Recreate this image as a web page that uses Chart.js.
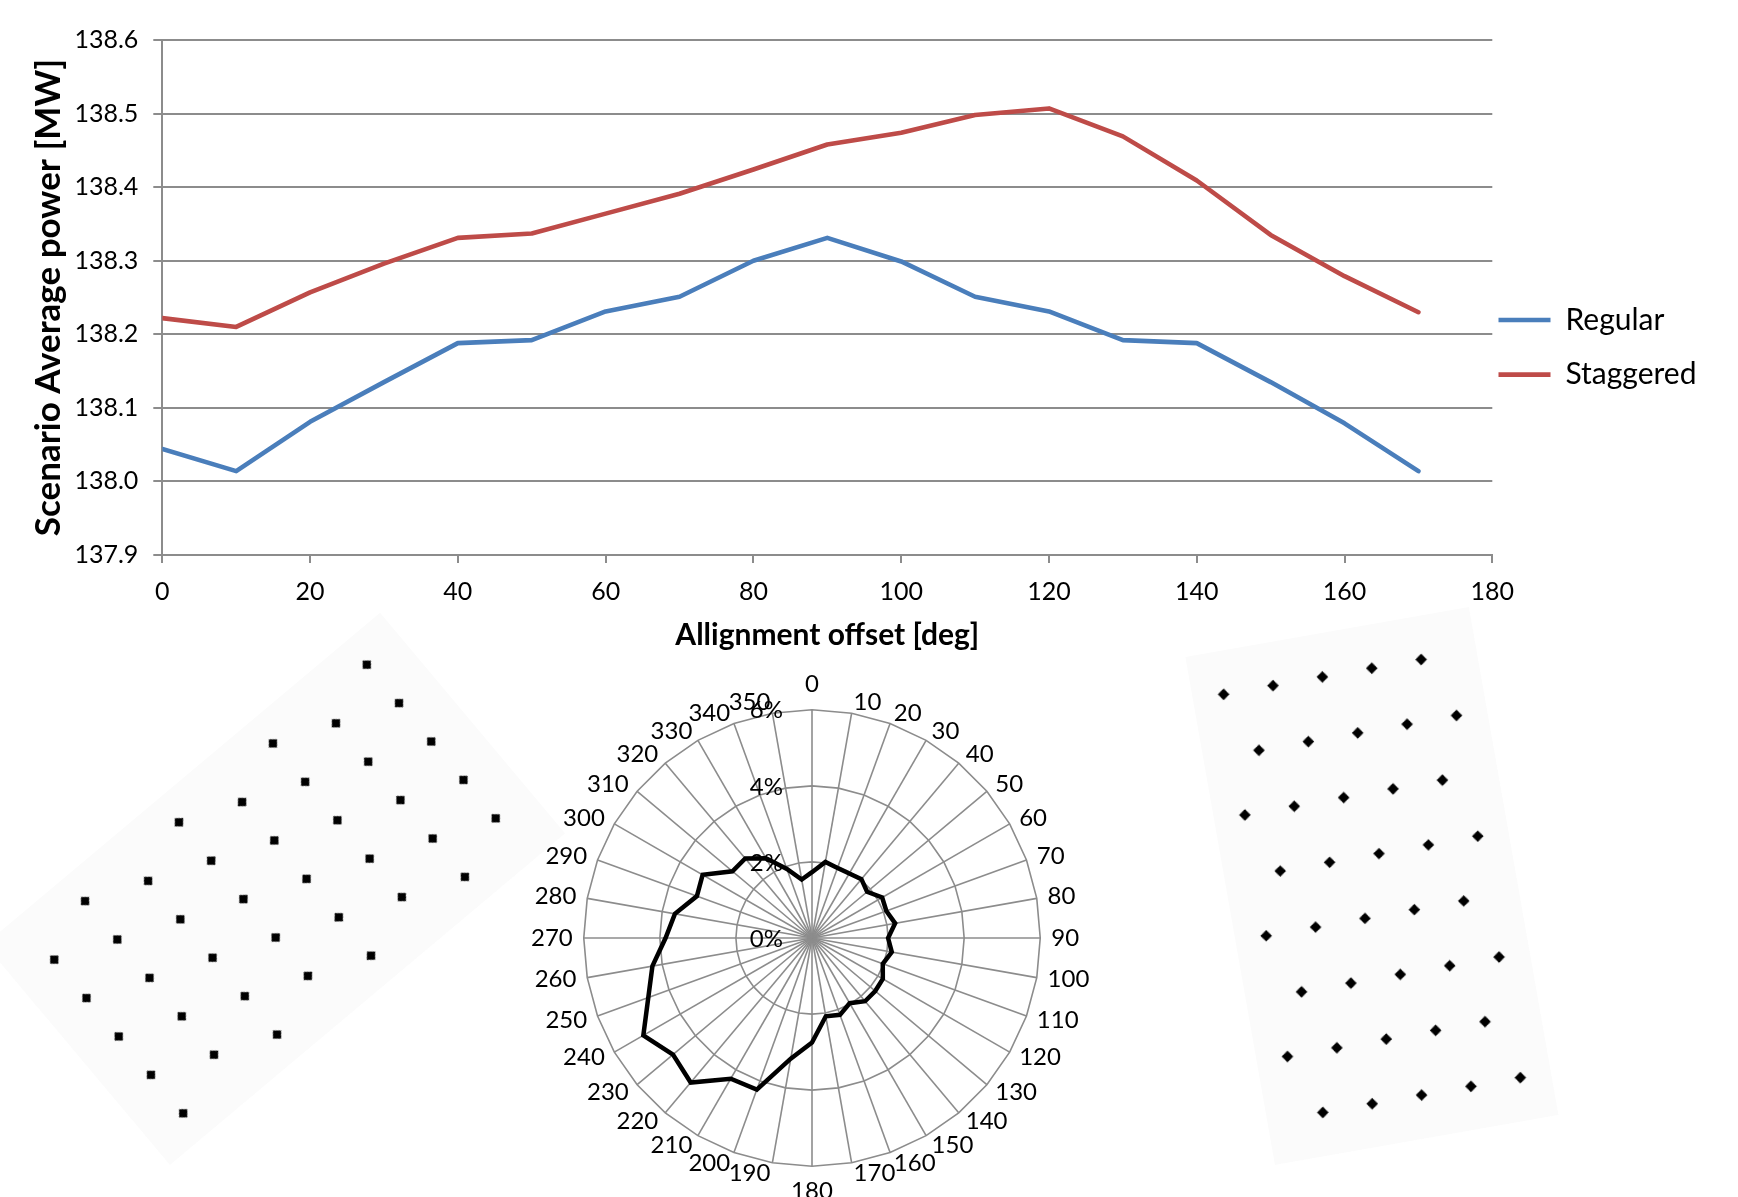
<!DOCTYPE html>
<html><head><meta charset="utf-8">
<script src="https://cdn.jsdelivr.net/npm/chart.js@4.4.1/dist/chart.umd.min.js"></script>
<style>
html,body{margin:0;padding:0;background:#fff;}
body{width:1738px;height:1197px;position:relative;overflow:hidden;}
canvas{position:absolute;}
#layoutA,#layoutB{background:#fbfbfb;}
</style></head><body>
<canvas id="line" width="1738" height="673" style="left:0;top:0"></canvas>
<canvas id="radar"></canvas>
<canvas id="layoutA" width="288" height="516"></canvas>
<canvas id="layoutB" width="288" height="516"></canvas>
<script>
// ---- line chart data ----
const offsets = [0,10,20,30,40,50,60,70,80,90,100,110,120,130,140,150,160,170];
const regular = [138.044,138.014,138.081,138.135,138.188,138.192,138.231,138.251,138.300,138.331,138.299,138.251,138.231,138.192,138.188,138.135,138.079,138.014];
const staggered = [138.222,138.210,138.257,138.296,138.331,138.337,138.364,138.391,138.424,138.458,138.474,138.498,138.507,138.469,138.409,138.335,138.279,138.230];
const seriesNames = ['Regular','Staggered'];
const xTitle = 'Allignment offset [deg]';
const yTitle = 'Scenario Average power [MW]';

// ---- wind rose data (percent per direction sector) ----
const directions = ['0','10','20','30','40','50','60','70','80','90','100','110','120','130','140','150','160','170','180','190','200','210','220','230','240','250','260','270','280','290','300','310','320','330','340','350'];
const frequency = [1.73,2.03,1.96,1.96,2.02,1.89,2.13,2.08,2.22,2.00,2.13,1.98,2.15,2.17,2.17,1.98,2.15,2.09,2.75,3.22,4.24,4.27,4.96,4.77,5.12,4.58,4.26,3.85,3.66,3.22,3.32,2.73,2.73,2.42,1.93,1.56];

// ---- turbine layout (units of rotor diameter) ----
const turbineX = [0,5,10,15,20, 2.5,7.5,12.5,17.5,22.5, 0,5,10,15,20, 2.5,7.5,12.5,17.5,22.5, 0,5,10,15,20, 2.5,7.5,12.5,17.5,22.5, 0,5,10,15,20, 2.5,7.5,12.5,17.5,22.5];
const turbineY = [0,0,0,0,0, 6,6,6,6,6, 12,12,12,12,12, 18,18,18,18,18, 24,24,24,24,24, 30,30,30,30,30, 36,36,36,36,36, 42,42,42,42,42];

Chart.defaults.font.family = 'Lato';
Chart.defaults.color = '#000';
const GRID = '#8c8c8c';

// ================= line chart =================
const LEG_PAD = 6.2;
const lineChart = new Chart(document.getElementById('line'), {
  type: 'line',
  data: { datasets: [
    { label: seriesNames[0], data: offsets.map((x,i)=>({x, y: regular[i]})), borderColor:'#4A7EBB', backgroundColor:'#4A7EBB',
      borderWidth: 4.6, pointRadius: 0, borderCapStyle:'round', borderJoinStyle:'round', tension:0, fill:false },
    { label: seriesNames[1], data: offsets.map((x,i)=>({x, y: staggered[i]})), borderColor:'#BE4B48', backgroundColor:'#BE4B48',
      borderWidth: 4.6, pointRadius: 0, borderCapStyle:'round', borderJoinStyle:'round', tension:0, fill:false }
  ]},
  options: {
    responsive:false, animation:false,
    layout:{ padding:{ top:40, left:0, bottom:0, right:0 } },
    plugins:{
      tooltip:{ enabled:false },
      legend:{ display:true, position:'right', align:'center',
        labels:{ usePointStyle:true, pointStyle:'line', pointStyleWidth:52, padding:LEG_PAD, color:'#000',
          font:{ size:30, lineHeight:(54.6 - LEG_PAD)/30 },
          generateLabels:(chart)=>Chart.defaults.plugins.legend.labels.generateLabels(chart).map(l=>Object.assign(l,{text:[l.text]})) } }
    },
    scales:{
      x:{ type:'linear', min:0, max:180,
        ticks:{ stepSize:20, padding:14, font:{ size:25 }, color:'#000' },
        grid:{ drawOnChartArea:false, drawTicks:true, tickLength:8, color:GRID, lineWidth:2 },
        border:{ display:true, color:GRID, width:2 },
        title:{ display:true, text:xTitle, font:{ size:30, weight:'bold' }, color:'#000', padding:{ top:0, bottom:20 } },
        afterFit:(s)=>{ s.height = 673 - 555; } },
      y:{ type:'linear', min:137.9, max:138.6,
        ticks:{ stepSize:0.1, padding:15, font:{ size:25 }, color:'#000', callback:(v)=>Number(v).toFixed(1) },
        grid:{ color:GRID, lineWidth:2, tickLength:9 },
        border:{ display:true, color:GRID, width:2 },
        title:{ display:true, text:yTitle, font:{ size:35, weight:'bold' }, color:'#000', padding:{ top:27.5, bottom:0 } },
        afterFit:(s)=>{ s.width = 162.3; } }
    }
  }
});
lineChart.options.layout.padding = { top:40, left:0, bottom:0, right: 1738 - 1492.3 - lineChart.legend.width };
lineChart.update('none');

// ================= radar (wind rose) =================
const radarTickLabels = {
  id:'radarTickLabels',
  afterLayout(chart){
    // centre each direction label vertically on its spoke (spreadsheet style)
    const s = chart.scales.r;
    (s._pointLabelItems || []).forEach((item, i) => {
      const a = Math.round(s.getIndexAngle(i) * 180 / Math.PI) % 360;
      const h = item.bottom - item.top;
      let dy = 0;
      if (a === 0 || a === 90 || a === 180 || a === 270) dy = 0;
      else if (a < 90 || a > 270) dy = h / 2;
      else dy = -h / 2;
      item.y += dy; item.top += dy; item.bottom += dy;
    });
  },
  beforeDatasetsDraw(chart){
    const s = chart.scales.r, ctx = chart.ctx;
    ctx.save();
    ctx.font = '24px Lato'; ctx.fillStyle = '#000'; ctx.textAlign = 'right'; ctx.textBaseline = 'middle';
    s.ticks.forEach(t => {
      const y = s.yCenter - s.getDistanceFromCenterForValue(t.value);
      ctx.fillText(t.label, s.xCenter - 29, y + 1);
    });
    ctx.restore();
  }
};
function radarConfig(){
  return {
    type:'radar',
    data:{ labels: directions, datasets:[{ label:'Wind', data: frequency, borderColor:'#000', borderWidth:4.5,
      pointRadius:0, fill:false, tension:0, borderJoinStyle:'miter' }] },
    options:{
      responsive:false, animation:false, layout:{ padding:0 },
      plugins:{ legend:{ display:false }, tooltip:{ enabled:false } },
      scales:{ r:{
        min:0, max:6, beginAtZero:true,
        ticks:{ display:false, stepSize:2, callback:(v)=>v + '%' },
        grid:{ color:GRID, lineWidth:1.6, circular:false },
        angleLines:{ color:GRID, lineWidth:1.6 },
        pointLabels:{ font:{ size:24 }, color:'#000', padding:11 }
      } }
    },
    plugins:[radarTickLabels]
  };
}
const rc = document.getElementById('radar');
let rsize = 620, radar = null;
for (let it = 0; it < 4; it++) {
  if (radar) radar.destroy();
  rc.width = rsize; rc.height = rsize;
  radar = new Chart(rc, radarConfig());
  const d = 228 - radar.scales.r.drawingArea;
  if (Math.abs(d) < 0.6) break;
  rsize = Math.round(rsize + 2*d);
}
rc.style.left = (811.7 - radar.scales.r.xCenter) + 'px';
rc.style.top = (937.7 - radar.scales.r.yCenter) + 'px';

// ================= layouts =================
function layoutChart(id, cx, cy, rot, markerRot){
  const el = document.getElementById(id);
  const W = el.width, H = el.height;
  el.style.left = (cx - W/2) + 'px';
  el.style.top = (cy - H/2) + 'px';
  el.style.transform = 'rotate(' + rot + 'deg)';
  const pxPerD = 10.45;
  return new Chart(el, {
    type:'scatter',
    data:{ datasets:[{ data: turbineX.map((x,i)=>({x, y: turbineY[i]})), pointStyle:'rect', pointRadius:5.8,
      rotation: markerRot, backgroundColor:'#000', borderColor:'#000', borderWidth:0 }] },
    options:{
      responsive:false, animation:false, layout:{ padding:0 },
      plugins:{ legend:{ display:false }, tooltip:{ enabled:false } },
      scales:{
        x:{ type:'linear', display:false, min: 11.25 - (W/2)/pxPerD, max: 11.25 + (W/2)/pxPerD },
        y:{ type:'linear', display:false, reverse:true, min: 21 - (H/2)/pxPerD, max: 21 + (H/2)/pxPerD }
      }
    }
  });
}
layoutChart('layoutA', 274.5, 888.5, 50, -50);
layoutChart('layoutB', 1371.8, 886, -10, 55);
</script>
</body></html>
